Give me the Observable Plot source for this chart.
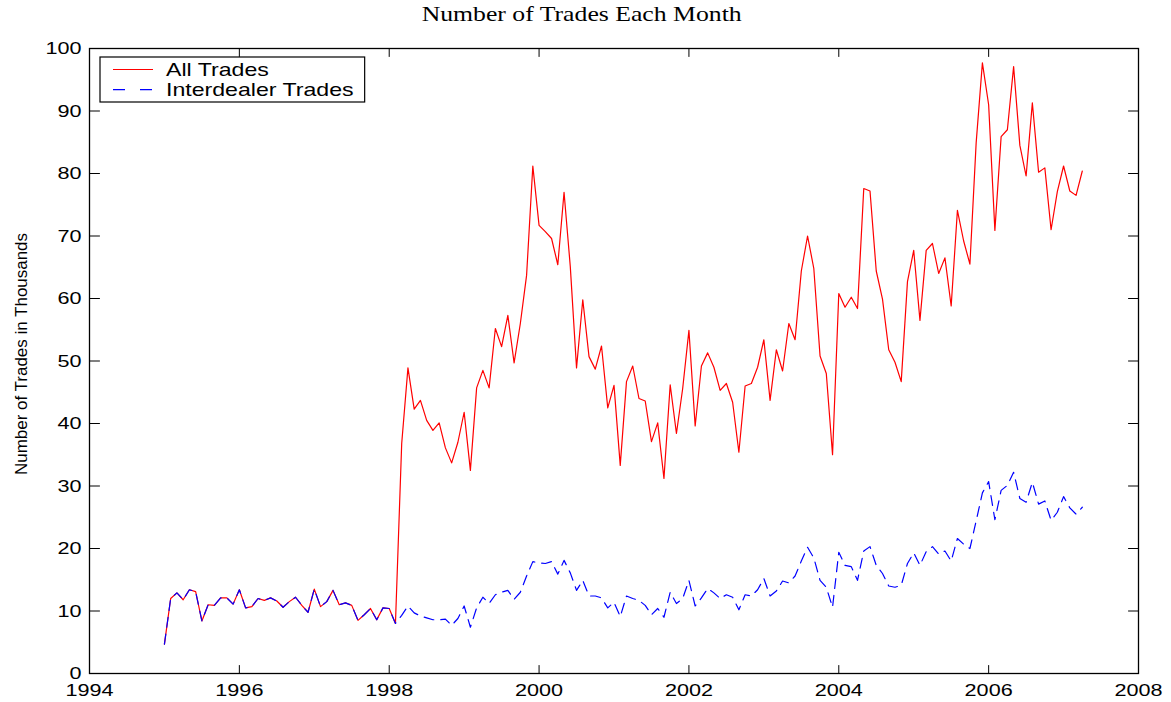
<!DOCTYPE html>
<html><head><meta charset="utf-8">
<script src="https://cdn.jsdelivr.net/npm/d3@7"></script>
<script src="https://cdn.jsdelivr.net/npm/@observablehq/plot@0.6"></script>
<style>
body{margin:0;background:#fff;}
#title{height:30px;font-family:"Liberation Serif","Times New Roman",serif;font-size:21px;line-height:30px;text-align:center;position:relative;top:-1px;left:-4px;white-space:nowrap;color:#000;}
#title span{display:inline-block;transform-origin:center;}
#chart{height:672px;}
</style></head><body>
<div id="title"><span>Number of Trades Each Month</span></div>
<div id="chart"></div>
<script>
// monthly data, Jan 1995 .. Apr 2007 (thousands of trades)
const startYear = 1995;
const allTrades = [
 4.7,12.0,12.9,11.8,13.4,13.1,8.4,11.0,10.9,12.1,12.1,11.1,
 13.4,10.5,10.7,12.0,11.7,12.1,11.6,10.6,11.5,12.2,10.9,9.8,
 13.5,10.7,11.5,13.3,11.0,11.3,10.9,8.5,9.4,10.4,8.6,10.5,
 10.4,8.0,36.8,48.9,42.3,43.7,40.5,38.9,40.1,36.1,33.7,37.0,
 41.8,32.5,45.7,48.5,45.7,55.2,52.3,57.3,49.7,56.0,63.7,81.2,
 71.7,70.7,69.6,65.4,77.0,65.1,48.9,59.8,50.7,48.7,52.4,42.5,
 46.1,33.3,46.7,49.2,44.0,43.6,37.1,40.1,31.2,46.2,38.4,45.6,
 54.9,39.6,49.2,51.3,49.0,45.3,46.4,43.4,35.4,46.0,46.4,49.0,
 53.4,43.7,51.8,48.4,56.0,53.4,64.4,70.0,64.8,50.8,48.0,35.0,
 60.8,58.6,60.2,58.4,77.6,77.2,64.4,59.9,51.8,49.8,46.7,62.7,
 67.7,56.5,67.7,68.8,64.0,66.5,58.8,74.1,69.2,65.5,84.9,97.7,
 91.0,70.9,85.9,87.0,97.1,84.5,79.6,91.3,80.2,80.9,71.0,77.1,
 81.2,77.2,76.5,80.4
];
const interdealerTrades = [
 4.7,12.0,12.9,11.8,13.4,13.1,8.4,11.0,10.9,12.1,12.1,11.1,
 13.4,10.5,10.7,12.0,11.7,12.1,11.6,10.6,11.5,12.2,10.9,9.8,
 13.5,10.7,11.5,13.3,11.0,11.3,10.9,8.5,9.4,10.4,8.6,10.5,
 10.4,8.0,9.3,10.8,9.7,9.2,8.9,8.6,8.6,8.7,7.7,8.8,
 10.8,7.4,10.5,12.2,11.2,12.6,13.0,13.3,11.85,13.0,15.6,17.9,
 17.7,17.6,17.9,15.9,18.1,16.1,13.3,14.9,12.4,12.4,12.1,10.5,
 11.4,9.1,12.4,12.0,11.7,10.9,9.4,10.4,9.0,13.0,11.2,12.0,
 14.9,10.8,12.1,13.6,12.9,12.0,12.6,12.2,10.2,12.6,12.4,13.4,
 15.2,12.4,13.2,14.8,14.5,15.6,18.0,20.2,18.5,14.9,13.8,10.6,
 19.4,17.3,17.1,14.9,19.6,20.3,17.3,16.0,14.0,13.8,14.1,17.6,
 19.3,17.3,19.5,20.3,19.1,19.6,18.0,21.6,20.7,20.0,24.4,28.9,
 30.7,24.6,29.3,30.1,32.2,28.0,27.4,30.6,27.1,27.6,24.5,25.8,
 28.3,26.5,25.5,26.6
];
const seriesNames = ["All Trades", "Interdealer Trades"];
const seriesColors = ["#ff0000", "#0000ff"];
const xTicks = [1994, 1996, 1998, 2000, 2002, 2004, 2006, 2008];
const yTicks = [0, 10, 20, 30, 40, 50, 60, 70, 80, 90, 100];
const yLabel = "Number of Trades in Thousands";

const rows = allTrades.map((v, i) => ({x: startYear + i / 12, all: v, inter: interdealerTrades[i]}));
const tickShape = {draw(ctx, l) { ctx.moveTo(0, 0); ctx.lineTo(0, -l); }};
const tickStyle = {stroke: "black", strokeWidth: 1, shape: tickShape, anchor: "start"};

const plot = Plot.plot({
  width: 1171, height: 672,
  marginTop: 18, marginBottom: 29, marginLeft: 89, marginRight: 33,
  style: {fontFamily: "'Liberation Sans', Arial, sans-serif", fontSize: "17.3px", color: "black", background: "white", overflow: "visible"},
  x: {domain: [1994, 2008]},
  y: {domain: [0, 100]},
  marks: [
    Plot.lineY(rows, {x: "x", y: "all", stroke: seriesColors[0], strokeWidth: 1.2}),
    Plot.lineY(rows, {x: "x", y: "inter", stroke: seriesColors[1], strokeWidth: 1.2, strokeDasharray: "10,7"}),
    Plot.vector(xTicks, {x: d => d, frameAnchor: "bottom", length: 8, rotate: 0, ...tickStyle}),
    Plot.vector(xTicks, {x: d => d, frameAnchor: "top", length: 8, rotate: 180, ...tickStyle}),
    Plot.vector(yTicks, {y: d => d, frameAnchor: "left", length: 10, rotate: 90, ...tickStyle}),
    Plot.vector(yTicks, {y: d => d, frameAnchor: "right", length: 10, rotate: -90, ...tickStyle}),
    Plot.frame({stroke: "black", strokeWidth: 1.3}),
    Plot.axisX(xTicks, {anchor: "bottom", tickSize: 0, tickPadding: 10, tickFormat: d => String(d), label: null}),
    Plot.axisY(yTicks, {anchor: "left", tickSize: 0, tickPadding: 8, tickFormat: d => String(d), label: null})
  ]
});
document.getElementById("chart").appendChild(plot);

// horizontal stretch of tick labels as in the reference
const SX = 1.25;
d3.select(plot).selectAll("text").each(function() {
  const ax = parseFloat(this.getAttribute("x")) || 0;
  const t = this.getAttribute("transform") || "";
  this.setAttribute("transform", `${t} translate(${ax},0) scale(${SX},1) translate(${-ax},0)`);
});

const svg = d3.select(plot);
// y axis label
svg.append("text")
  .attr("transform", "translate(26.7,324) rotate(-90)")
  .attr("text-anchor", "middle")
  .attr("font-family", "'Liberation Sans', Arial, sans-serif")
  .attr("font-size", 16)
  .attr("textLength", 242)
  .attr("lengthAdjust", "spacingAndGlyphs")
  .attr("fill", "black")
  .text(yLabel);

// legend
const lg = svg.append("g").attr("text-anchor", "start");
const box = lg.append("rect").attr("x", 100).attr("y", 27).attr("height", 45).attr("width", 268)
  .attr("fill", "white").attr("stroke", "black").attr("stroke-width", 1.2);
let maxRight = 0;
seriesNames.forEach((name, k) => {
  const ly = 39.5 + k * 20.2;
  lg.append("line").attr("x1", 113).attr("x2", 153).attr("y1", ly).attr("y2", ly)
    .attr("stroke", seriesColors[k]).attr("stroke-width", 1.2)
    .attr("stroke-dasharray", k === 1 ? "12,15" : null);
  const t = lg.append("text").attr("transform", `translate(166,${ly + 6.6}) scale(${SX},1)`)
    .attr("text-anchor", "start")
    .attr("font-family", "'Liberation Sans', Arial, sans-serif").attr("font-size", 18.5)
    .attr("fill", "black").text(name);
  maxRight = Math.max(maxRight, 166 + t.node().getComputedTextLength() * SX);
});
box.attr("width", maxRight + 11 - 100);

// title stretch
const ts = document.querySelector("#title span");
const w = ts.getBoundingClientRect().width;
ts.style.transform = `scaleX(${320 / w})`;
</script>
</body></html>
